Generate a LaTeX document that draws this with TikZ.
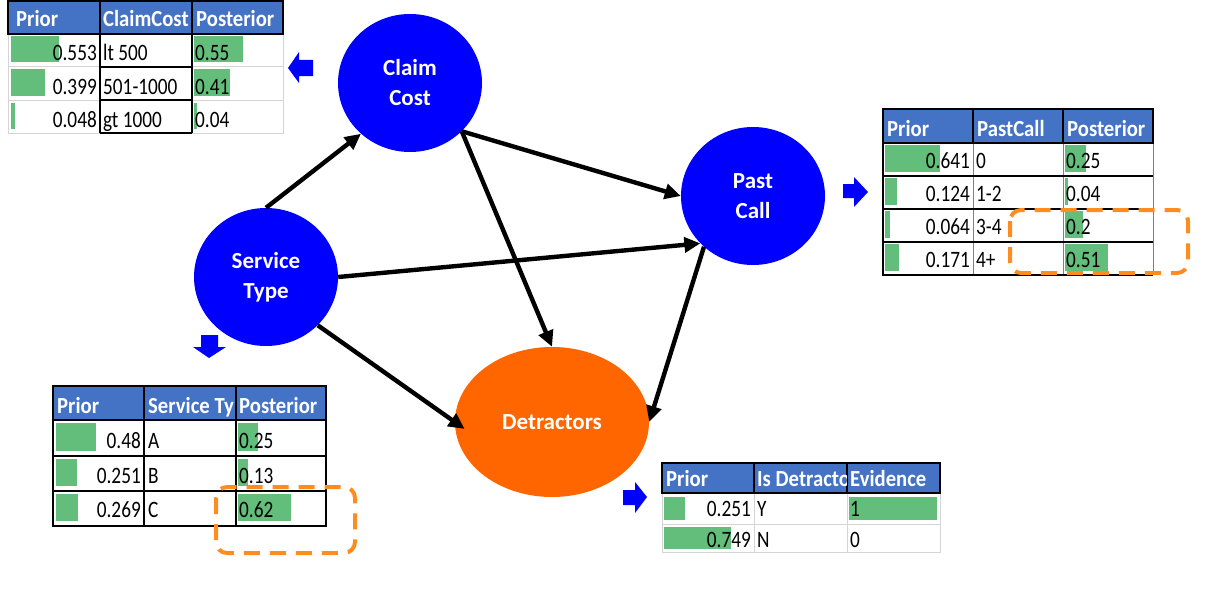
\documentclass[tikz,border=0pt]{standalone}
\usepackage{graphicx}
\usepackage{fontspec}
\setmainfont{Carlito}
\usetikzlibrary{shapes.geometric,arrows.meta}
\definecolor{nodeblue}{RGB}{0,0,255}
\definecolor{detorange}{RGB}{255,102,0}
\definecolor{hdrblue}{RGB}{68,114,196}
\definecolor{bargreen}{RGB}{99,190,123}
\definecolor{gridgrey}{RGB}{212,212,212}
\definecolor{dashorange}{RGB}{255,140,30}
\newcommand\datatxt[1]{\scalebox{0.82}[1]{#1}}
\newcommand\hdrtxt[1]{\scalebox{0.9}[1]{#1}}
\tikzset{
  bnnode/.style={ellipse,fill=nodeblue,text=white,inner sep=0pt,align=center,
    minimum width=144pt,minimum height=138pt,font=\bfseries\fontsize{23}{30}\selectfont},
  link/.style={line width=4.4pt,black,-{Triangle[length=16pt,width=15pt]}},
  hdrfill/.style={fill=hdrblue},
  tblline/.style={line width=1.8pt,black},
  gridline/.style={line width=1pt,gridgrey},
  databar/.style={fill=bargreen},
  cell/.style={inner sep=0pt,font=\fontsize{23.5}{26}\selectfont},
  hdrtext/.style={inner sep=0pt,text=white,font=\bfseries\fontsize{23}{26}\selectfont,anchor=base west},
  numtext/.style={cell,anchor=base east},
  lbltext/.style={cell,anchor=base west},
  focusbox/.style={draw=dashorange,line width=4pt,rounded corners=11pt,dash pattern=on 16pt off 10pt},
  blockarrow/.style={fill=nodeblue}
}
\begin{document}
\begin{tikzpicture}[x=1pt,y=-1pt]
\useasboundingbox (0,0) rectangle (1207,602);

% ---------------- network nodes ----------------
\node[bnnode] (cc) at (410,83) {Claim\\Cost};
\node[bnnode] (st) at (266,277) {Service\\Type};
\node[bnnode] (pc) at (753,196) {Past\\Call};
\node[bnnode,fill=detorange,minimum width=194pt,minimum height=150pt] (det) at (552,422) {Detractors};

\draw[link] (st.north) -- (cc.226);
\draw[link] (cc.317) -- (pc.west);
\draw[link] (cc.317) -- (det.north);
\draw[link] (st.east) -- (pc.222);
\draw[link,shorten >=-12pt] (st.317) -- (det.west);
\draw[link] (pc.226) -- (det.east);

% ---------------- block arrows ----------------
\fill[blockarrow] (313,60) -- (299,60) -- (299,52) -- (288,68) -- (299,83) -- (299,76) -- (313,76) -- cycle;
\fill[blockarrow] (843,184) -- (854,184) -- (854,177) -- (868,192) -- (854,207) -- (854,198) -- (843,198) -- cycle;
\fill[blockarrow] (201,335) -- (218,335) -- (218,347) -- (226,347) -- (209,358) -- (193,347) -- (201,347) -- cycle;
\fill[blockarrow] (623,490) -- (635,490) -- (635,482) -- (647,497) -- (635,513) -- (635,505) -- (623,505) -- cycle;

% ---------------- table 1: ClaimCost ----------------
\fill[hdrfill] (8,1) rectangle (283,34);
\draw[gridline] (8,34) -- (8,133) -- (283,133) -- (283,34);
\draw[gridline] (8,67) -- (283,67) (8,100) -- (283,100);
\fill[databar] (11,36.5) rectangle ++(48,26);
\fill[databar] (11,69.5) rectangle ++(34,26);
\fill[databar] (11,102.5) rectangle ++(4,26);
\fill[databar] (194,36.5) rectangle ++(49,26);
\fill[databar] (194,69.5) rectangle ++(36,26);
\fill[databar] (194,102.5) rectangle ++(2.5,26);
\draw[tblline] (8,1) rectangle (283,34) (100,1) -- (100,133) (192,1) -- (192,133)
  (100,67) -- (192,67) (100,100) -- (192,100) (100,133) -- (192,133);
\node[hdrtext] (t1h1) at (16,27) {\hdrtxt{Prior}};
\begin{scope}
  \clip (101,2) rectangle (191,33);
  \node[hdrtext] (t1h2) at (103,27) {\hdrtxt{ClaimCost}};
\end{scope}
\node[hdrtext] (t1h3) at (196,27) {\hdrtxt{Posterior}};
\node[numtext] (t1p1) at (97,61) {\datatxt{0.553}};
\node[numtext] (t1p2) at (97,94) {\datatxt{0.399}};
\node[numtext] (t1p3) at (97,127) {\datatxt{0.048}};
\node[lbltext] (t1c1) at (103,61) {\datatxt{lt 500}};
\node[lbltext] (t1c2) at (103,94) {\datatxt{501-1000}};
\node[lbltext] (t1c3) at (103,127) {\datatxt{gt 1000}};
\node[lbltext] (t1q1) at (195,61) {\datatxt{0.55}};
\node[lbltext] (t1q2) at (195,94) {\datatxt{0.41}};
\node[lbltext] (t1q3) at (195,127) {\datatxt{0.04}};

% ---------------- table 2: PastCall ----------------
\fill[hdrfill] (883,109) rectangle (1153,143);
\fill[databar] (885,144.5) rectangle ++(55,27);
\fill[databar] (885,177.5) rectangle ++(12,27);
\fill[databar] (885,210.5) rectangle ++(5,27);
\fill[databar] (885,243.5) rectangle ++(14,27);
\fill[databar] (1065,144.5) rectangle ++(21,27);
\fill[databar] (1065,177.5) rectangle ++(2.5,27);
\fill[databar] (1065,210.5) rectangle ++(18,27);
\fill[databar] (1065,243.5) rectangle ++(43,27);
\draw[gridline,gray] (973,143) -- (973,275) (1063,143) -- (1063,275) (1153,143) -- (1153,275);
\draw[tblline] (883,109) rectangle (1153,143) (973,109) -- (973,143) (1063,109) -- (1063,143)
  (883,143) -- (883,275) -- (1153,275) (883,176) -- (1153,176) (883,209) -- (1153,209) (883,242) -- (1153,242);
\node[hdrtext] (t2h1) at (887,136) {\hdrtxt{Prior}};
\node[hdrtext] (t2h2) at (977,136) {\hdrtxt{PastCall}};
\node[hdrtext] (t2h3) at (1067,136) {\hdrtxt{Posterior}};
\node[numtext] (t2p1) at (970,168) {\datatxt{0.641}};
\node[numtext] (t2p2) at (970,201) {\datatxt{0.124}};
\node[numtext] (t2p3) at (970,234) {\datatxt{0.064}};
\node[numtext] (t2p4) at (970,267) {\datatxt{0.171}};
\node[lbltext] (t2c1) at (976,168) {\datatxt{0}};
\node[lbltext] (t2c2) at (976,201) {\datatxt{1-2}};
\node[lbltext] (t2c3) at (976,234) {\datatxt{3-4}};
\node[lbltext] (t2c4) at (976,267) {\datatxt{4+}};
\node[lbltext] (t2q1) at (1066,168) {\datatxt{0.25}};
\node[lbltext] (t2q2) at (1066,201) {\datatxt{0.04}};
\node[lbltext] (t2q3) at (1066,234) {\datatxt{0.2}};
\node[lbltext] (t2q4) at (1066,267) {\datatxt{0.51}};
\draw[focusbox] (1010,210) rectangle (1188,273);

% ---------------- table 3: Service Type ----------------
\fill[hdrfill] (53,386) rectangle (326,420);
\fill[databar] (56,423) rectangle ++(40,28);
\fill[databar] (56,459) rectangle ++(21,27);
\fill[databar] (56,494) rectangle ++(22,27);
\fill[databar] (238,423) rectangle ++(20,28);
\fill[databar] (238,459) rectangle ++(10,27);
\fill[databar] (238,494) rectangle ++(53,27);
\draw[tblline] (53,386) rectangle (326,526) (53,420) -- (326,420) (53,456) -- (326,456) (53,491) -- (326,491)
  (144,386) -- (144,526) (236,386) -- (236,526);
\node[hdrtext] (t3h1) at (57,413) {\hdrtxt{Prior}};
\begin{scope}
  \clip (145,387) rectangle (235,419);
  \node[hdrtext] (t3h2) at (148,413) {\hdrtxt{Service Ty}};
\end{scope}
\node[hdrtext] (t3h3) at (239,413) {\hdrtxt{Posterior}};
\node[numtext] (t3p1) at (141,448) {\datatxt{0.48}};
\node[numtext] (t3p2) at (141,483) {\datatxt{0.251}};
\node[numtext] (t3p3) at (141,517) {\datatxt{0.269}};
\node[lbltext] (t3c1) at (148,448) {\datatxt{A}};
\node[lbltext] (t3c2) at (148,483) {\datatxt{B}};
\node[lbltext] (t3c3) at (148,517) {\datatxt{C}};
\node[lbltext] (t3q1) at (239,448) {\datatxt{0.25}};
\node[lbltext] (t3q2) at (239,483) {\datatxt{0.13}};
\node[lbltext] (t3q3) at (239,517) {\datatxt{0.62}};
\draw[focusbox] (216,487) rectangle (355,553);

% ---------------- table 4: Detractors ----------------
\fill[hdrfill] (662,463) rectangle (940,493);
\draw[gridline] (662,493) -- (662,552) -- (940,552) -- (940,493) (662,524) -- (940,524)
  (754,493) -- (754,552) (847,493) -- (847,552);
\fill[databar] (664,497) rectangle ++(21,23);
\fill[databar] (664,527) rectangle ++(67,22);
\fill[databar] (849,497) rectangle ++(88,23);
\draw[tblline] (662,463) rectangle (940,493) (754,463) -- (754,493) (847,463) -- (847,493);
\node[hdrtext] (t4h1) at (666,486) {\hdrtxt{Prior}};
\begin{scope}
  \clip (755,464) rectangle (846,492);
  \node[hdrtext] (t4h2) at (757,486) {\hdrtxt{Is Detracto}};
\end{scope}
\node[hdrtext] (t4h3) at (850,486) {\hdrtxt{Evidence}};
\node[numtext] (t4p1) at (751,516) {\datatxt{0.251}};
\node[numtext] (t4p2) at (751,547) {\datatxt{0.749}};
\node[lbltext] (t4c1) at (757,516) {\datatxt{Y}};
\node[lbltext] (t4c2) at (757,547) {\datatxt{N}};
\node[lbltext] (t4q1) at (850,516) {\datatxt{1}};
\node[lbltext] (t4q2) at (850,547) {\datatxt{0}};
\end{tikzpicture}
\end{document}
